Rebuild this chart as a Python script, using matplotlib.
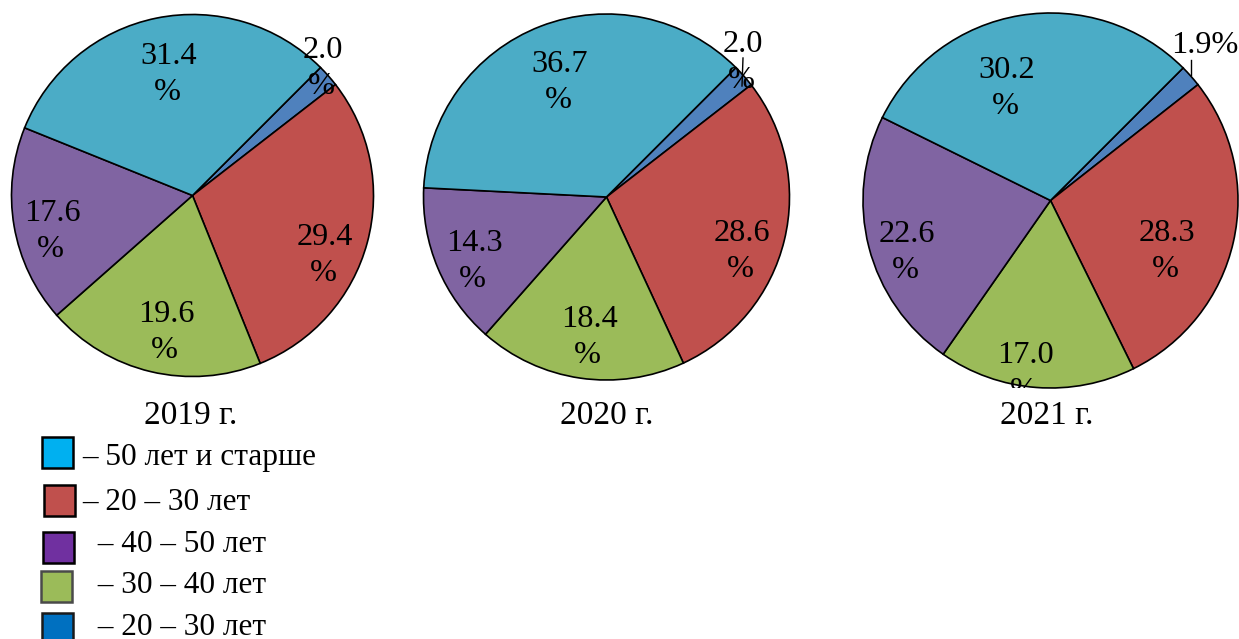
import matplotlib
matplotlib.use("Agg")
import matplotlib.pyplot as plt
from matplotlib.patches import Rectangle

plt.rcParams['font.family'] = ['Liberation Serif', 'DejaVu Serif']

# ---------------- data ----------------
years = ["2019 г.", "2020 г.", "2021 г."]
# slice order (clockwise from the top-right): small blue, red, green, purple, cyan
share_blue = [2.0, 2.0, 1.9]
share_red = [29.4, 28.6, 28.3]
share_green = [19.6, 18.4, 17.0]
share_purple = [17.6, 14.3, 22.6]
share_cyan = [31.4, 36.7, 30.2]

legend_labels = ["– 50 лет и старше", "– 20 – 30 лет", " – 40 – 50 лет",
                 " – 30 – 40 лет", " – 20 – 30 лет"]

# ---------------- style / layout ----------------
W, H = 1239, 639
pie_colors = ["#4F81BD", "#C0504D", "#9BBB59", "#8064A2", "#4BACC6"]
legend_colors = ["#00B0F0", "#C0504D", "#7030A0", "#9BBB59", "#0070C0"]
legend_edges = ["#000000", "#000000", "#000000", "#4a4a4a", "#1a1a1a"]

LABEL_FS = 23.3
TITLE_FS = 24
LEGEND_FS = 22.5

# pie geometry in pixels: centre x, centre y, radius
pie_geom = [(192.5, 195.5, 181.0), (606.5, 197.0, 183.0), (1050.5, 200.5, 187.5)]
title_pos = [(191, 424), (607, 424), (1047, 424)]

# label anchor (number baseline) in pixels, per slice [blue, red, green, purple, cyan]
label_px = [
    [(323, 58), (325, 245), (166, 322), (52, 221), (169, 64)],
    [(743, 52), (742, 241), (589, 327), (474, 251), (560, 72)],
    [(1205, 53), (1167, 241), (1025, 363), (907, 242), (1007, 78)],
]
pct_gap = 36  # px between the number line and the "%" line
leaders = [None, ((743, 58), (742, 86)), ((1191, 60), (1191, 75))]

fig = plt.figure(figsize=(W / 100, H / 100), dpi=100)


def fx(x):
    return x / W


def fy(y):
    return 1 - y / H


for i in range(3):
    cx, cy, r = pie_geom[i]
    top = max(cy - r, 14.5)
    bottom = cy + r
    ax = fig.add_axes([fx(cx - r), fy(bottom), 2 * r / W, (bottom - top) / H])
    vals = [share_blue[i], share_red[i], share_green[i], share_purple[i], share_cyan[i]]
    ax.pie(vals, colors=pie_colors, startangle=45, counterclock=False, radius=1,
           wedgeprops=dict(edgecolor="black", linewidth=1.2))
    ax.set_aspect('auto')
    ax.set_xlim(-1, 1)
    ax.set_ylim(-1, (cy - top) / r)
    ax.axis('off')

    for j, v in enumerate(vals):
        px, py = label_px[i][j]
        dx = (px - cx) / r
        dy = (cy - py) / r
        if i == 2 and j == 0:
            ax.text(dx, dy, f"{v:.1f}%", ha='center', va='baseline', fontsize=LABEL_FS,
                    clip_on=False)
        else:
            ax.text(dx, dy, f"{v:.1f}", ha='center', va='baseline', fontsize=LABEL_FS,
                    clip_on=True)
            ax.text(dx - 1.5 / r, dy - pct_gap / r, "%", ha='center', va='baseline',
                    fontsize=LABEL_FS, clip_on=True)
    if leaders[i] is not None:
        (x0, y0), (x1, y1) = leaders[i]
        fig.add_artist(plt.Line2D([fx(x0), fx(x1)], [fy(y0), fy(y1)], color='black',
                                  linewidth=1.0))

    tx, ty = title_pos[i]
    fig.text(fx(tx), fy(ty), years[i], ha='center', va='baseline', fontsize=TITLE_FS)

# legend
sq = [(42, 437), (44, 485), (43, 532), (41, 571), (42, 613)]
txt = [(82, 465), (82, 510), (90, 552), (90, 593), (90, 635)]
for k in range(5):
    x0, y0 = sq[k]
    fig.add_artist(Rectangle((fx(x0), fy(y0 + 31)), 31 / W, 31 / H,
                             facecolor=legend_colors[k], edgecolor=legend_edges[k],
                             linewidth=1.8, transform=fig.transFigure))
    tx, ty = txt[k]
    fig.text(fx(tx), fy(ty), legend_labels[k], ha='left', va='baseline', fontsize=LEGEND_FS)

fig.savefig("out.png", dpi=100, facecolor='white')
